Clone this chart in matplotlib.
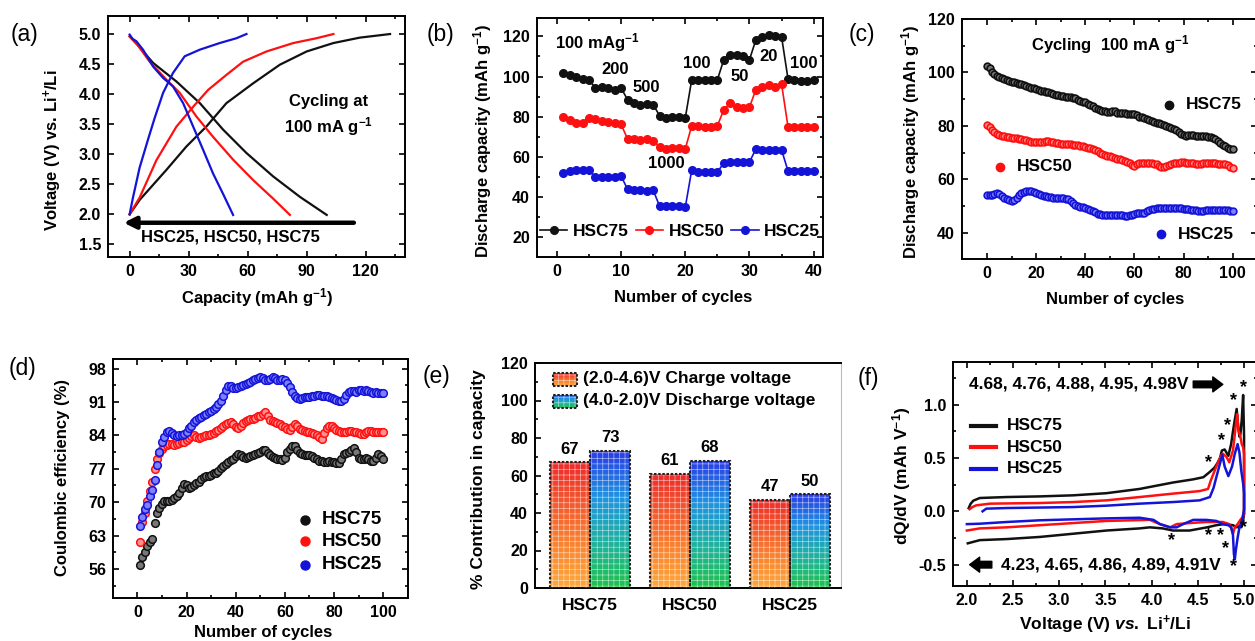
import numpy as np
import matplotlib
matplotlib.use('Agg')
import matplotlib.pyplot as plt
from matplotlib.colors import LinearSegmentedColormap
from matplotlib.ticker import MultipleLocator, FormatStrFormatter
from matplotlib.patches import Rectangle

plt.rcParams['font.family'] = ['Liberation Sans', 'DejaVu Sans']
plt.rcParams['font.weight'] = 'bold'
plt.rcParams['axes.labelweight'] = 'bold'
plt.rcParams['mathtext.fontset'] = 'custom'
plt.rcParams['mathtext.rm'] = 'Liberation Sans:bold'
plt.rcParams['mathtext.bf'] = 'Liberation Sans:bold'
plt.rcParams['mathtext.it'] = 'Liberation Sans:italic:bold'
plt.rcParams['axes.linewidth'] = 1.4
plt.rcParams['axes.unicode_minus'] = False
plt.rcParams['hatch.color'] = 'white'
plt.rcParams['hatch.linewidth'] = 0.5

BLK = '#111111'
RED = '#ff1010'
BLU = '#1414d8'

# ---- (a) charge / discharge profiles ----
a_chg25_cap = [0, 1.7, 5.1, 9.3, 12.7, 17, 22, 28, 35.7, 45.8, 54.3, 59.4]
a_chg25_v = [2.0, 2.28, 2.78, 3.24, 3.6, 4.02, 4.35, 4.63, 4.74, 4.85, 4.93, 5.0]
a_chg50_cap = [0, 5.1, 13.6, 23.8, 32.3, 39.9, 49.2, 57.7, 69.6, 83.2, 95, 103.6]
a_chg50_v = [2.0, 2.28, 2.9, 3.46, 3.79, 4.07, 4.32, 4.54, 4.71, 4.85, 4.93, 5.0]
a_chg75_cap = [0, 5.1, 18.7, 28.9, 39, 49.2, 62.8, 76.4, 90, 103.6, 117, 132.4]
a_chg75_v = [2.0, 2.24, 2.74, 3.13, 3.46, 3.85, 4.18, 4.49, 4.71, 4.85, 4.94, 5.0]
a_dis25_cap = [0, 1.5, 3.4, 6.8, 11.9, 17, 22, 27.2, 32.3, 37.4, 42.4, 47.5, 52.6]
a_dis25_v = [4.99, 4.92, 4.88, 4.74, 4.46, 4.27, 4.13, 3.85, 3.46, 3.07, 2.68, 2.34, 1.99]
a_dis50_cap = [0, 4, 10.2, 18.7, 25.5, 33.9, 42.4, 52.6, 62.8, 73, 81.5]
a_dis50_v = [4.96, 4.82, 4.54, 4.24, 4.02, 3.63, 3.29, 2.91, 2.57, 2.26, 1.99]
a_dis75_cap = [0, 4, 11.9, 23.8, 35.7, 47.5, 59.4, 73, 86.6, 100.2]
a_dis75_v = [4.96, 4.82, 4.52, 4.21, 3.85, 3.41, 3.02, 2.63, 2.29, 1.99]

# ---- (b) rate capability ----
b_cycles = list(range(1, 41))
b_hsc75 = [101.8, 101, 99.8, 98.8, 98.4, 94.3, 94.8, 94.3, 93.5, 94.3,
           88.5, 86.8, 86, 86.5, 86, 80.5, 79.4, 79.9, 79.9, 79.4,
           98.4, 98.4, 98.4, 98.4, 98.4, 108.4, 110.9, 110.9, 110, 108.4,
           118.3, 119.7, 120.8, 120.3, 119.7, 98.8, 98.5, 98, 98, 98.5]
b_hsc50 = [80, 78.3, 77, 77, 79.3, 79, 78, 77.2, 77, 76.2,
           69, 69, 68.5, 69, 68, 65, 64, 64.5, 64.5, 64,
           75.5, 75.5, 75, 75, 75.5, 83.5, 86.8, 85, 84.3, 84.8,
           93.5, 95, 96, 95, 96.2, 75, 75, 75, 75, 75]
b_hsc25 = [52, 53, 53.5, 53.5, 53.5, 50, 50, 50, 50, 50.5,
           44, 43.5, 43.5, 43, 43.5, 35.5, 35.5, 35.5, 35.5, 35,
           53.5, 52.5, 52.5, 52.5, 52.5, 57, 57.5, 57.5, 57.5, 57.5,
           64, 63.5, 63.5, 63.5, 63.5, 53, 53, 53, 53, 53]
b_rate_labels = ['100 mAg$^{-1}$', '200', '500', '1000', '100', '50', '20', '100']
b_rate_x = [6.35, 9.1, 13.9, 17.0, 21.8, 28.5, 33.0, 38.4]
b_rate_y = [116.7, 103.4, 94.3, 56.5, 106.7, 100.0, 110.0, 106.4]

# ---- (c) cycling at 100 mA/g ----
c_cycles = list(range(0, 101))
c_hsc75 = [102.5, 101.5, 100.3, 99.4, 98.8, 98.2, 97.8, 97.4, 97.0, 96.8,
           96.5, 96.3, 96.0, 95.8, 95.6, 95.4, 95.0, 94.6, 94.3, 94.0,
           93.8, 93.5, 93.2, 92.9, 92.7, 92.5, 92.4, 92.0, 91.7, 91.4,
           91.3, 91.2, 91.0, 90.9, 90.7, 90.6, 90.3, 89.8, 89.3, 88.9,
           88.8, 88.3, 87.8, 87.3, 86.8, 86.3, 86.0, 85.7, 85.4, 85.3,
           85.3, 85.5, 85.4, 85.0, 84.8, 85.0, 84.8, 84.6, 84.5, 84.4,
           84.4, 84.0, 83.5, 83.2, 82.8, 82.5, 82.1, 81.7, 81.4, 81.1,
           81.0, 80.7, 80.4, 80.0, 79.7, 79.4, 78.8, 78.3, 77.6, 77.0,
           76.6, 76.4, 76.5, 76.6, 76.5, 76.3, 76.2, 76.3, 76.2, 76.1,
           76.0, 75.8, 75.4, 75.0, 74.2, 73.5, 73.0, 72.4, 71.9, 71.5, 71.3]
c_hsc50 = [80.4, 79.5, 78.3, 77.6, 77.1, 76.7, 76.4, 76.2, 75.9, 75.7,
           75.6, 75.5, 75.4, 75.2, 75.0, 74.8, 74.6, 74.3, 74.1, 73.9,
           73.8, 73.8, 73.9, 74.0, 74.2, 74.2, 74.0, 73.9, 73.7, 73.5,
           73.4, 73.3, 73.4, 73.3, 73.1, 72.9, 72.9, 72.7, 72.6, 72.4,
           72.2, 71.9, 71.6, 71.3, 71.0, 70.5, 70.0, 69.6, 69.2, 68.9,
           68.6, 68.3, 68.0, 67.8, 67.6, 67.4, 67.0, 66.5, 66.0, 65.4,
           65.0, 65.6, 66.0, 66.0, 66.1, 66.0, 66.1, 66.0, 65.9, 65.6,
           64.9, 64.5, 64.6, 65.1, 65.5, 65.8, 66.0, 66.2, 66.3, 66.4,
           66.4, 66.3, 66.2, 66.1, 66.0, 65.9, 65.9, 65.9, 66.0, 66.0,
           66.1, 66.1, 66.0, 66.0, 65.9, 65.8, 65.8, 65.6, 65.2, 64.6, 64.2]
c_hsc25 = [54.2, 54.0, 54.0, 54.4, 54.8, 54.4, 53.8, 53.2, 52.8, 52.4,
           52.0, 52.3, 53.2, 54.2, 54.8, 55.3, 55.6, 55.8, 55.6, 55.2,
           54.8, 54.4, 54.0, 53.8, 53.6, 53.5, 53.4, 53.2, 53.1, 53.0,
           53.0, 52.9, 52.8, 52.5, 52.0, 51.0, 50.3, 50.0, 49.8, 49.6,
           49.3, 48.9, 48.5, 48.0, 47.6, 47.2, 46.9, 46.7, 46.6, 46.6,
           46.7, 46.8, 46.8, 46.7, 46.6, 46.5, 46.4, 46.3, 46.5, 46.8,
           47.2, 47.3, 47.3, 47.5, 47.3, 48.0, 48.6, 48.9, 49.0, 49.1,
           49.2, 49.3, 49.4, 49.4, 49.3, 49.3, 49.3, 49.2, 49.2, 49.1,
           49.0, 49.0, 48.9, 48.7, 48.6, 48.4, 48.3, 48.3, 48.3, 48.4,
           48.4, 48.5, 48.5, 48.4, 48.4, 48.4, 48.4, 48.4, 48.4, 48.3, 48.3]

# ---- (d) coulombic efficiency ----
d_cycles = list(range(1, 101))
d_hsc75 = [56.9, 58.5, 59.6, 60.8, 61.7, 62.2, 65.6, 67.8, 68.7, 69.5,
           70.2, 70.3, 70.2, 70.4, 70.8, 71.3, 72.0, 73.0, 73.8, 73.6,
           73.0, 73.2, 73.6, 74.0, 74.3, 74.8, 75.2, 75.4, 75.4, 75.7,
           76.0, 76.1, 76.6, 77.2, 77.5, 78.0, 78.4, 78.8, 79.0, 79.6,
           80.0, 79.8, 79.4, 79.3, 79.5, 79.7, 79.9, 80.0, 80.3, 80.6,
           80.9, 81.0, 80.4, 79.8, 79.5, 79.3, 79.1, 79.0, 78.9, 79.2,
           80.6, 81.2, 81.7, 81.8, 81.0, 80.3, 80.0, 79.9, 79.8, 79.8,
           79.6, 79.3, 79.0, 78.7, 78.6, 78.4, 78.5, 78.6, 78.5, 78.4,
           78.3, 78.3, 79.0, 80.0, 80.3, 80.5, 81.0, 81.4, 80.5, 79.2,
           79.0, 79.1, 79.3, 79.0, 78.7, 78.6, 79.2, 80.0, 79.7, 79.0]
d_hsc50 = [61.6, 65.8, 67.7, 70.3, 72.4, 74.3, 76.9, 79.1, 80.4, 81.2,
           81.8, 82.0, 82.1, 82.1, 82.0, 82.2, 82.4, 82.5, 82.7, 83.0,
           83.4, 83.9, 84.0, 83.7, 83.5, 83.6, 83.8, 84.0, 84.0, 84.2,
           84.5, 84.9, 85.2, 85.6, 86.0, 86.3, 86.5, 86.7, 86.3, 85.8,
           85.6, 86.0, 86.5, 86.9, 87.2, 87.4, 87.5, 87.7, 88.0, 88.1,
           88.5, 88.9, 88.0, 87.3, 87.0, 86.8, 86.5, 86.3, 86.0, 85.7,
           85.4, 85.2, 85.8, 86.3, 86.0, 85.4, 85.2, 85.0, 84.8, 84.6,
           84.4, 84.2, 84.0, 83.6, 83.3, 84.5, 85.6, 86.0, 86.0, 85.5,
           85.1, 84.9, 84.8, 84.7, 84.8, 85.0, 84.9, 84.8, 84.6, 84.4,
           84.2, 84.3, 84.6, 84.9, 84.9, 84.8, 84.8, 84.7, 84.7, 84.7]
d_hsc25 = [65.0, 66.8, 68.6, 69.3, 71.3, 72.5, 74.6, 77.8, 80.5, 82.5,
           83.6, 84.6, 85.0, 84.5, 84.0, 83.8, 84.0, 84.1, 84.3, 84.8,
           85.5, 86.0, 86.7, 87.2, 87.6, 87.9, 88.2, 88.4, 88.8, 89.2,
           89.6, 90.0, 90.6, 91.3, 92.3, 93.5, 94.4, 94.3, 93.9, 94.0,
           94.2, 94.4, 94.6, 94.8, 95.0, 95.2, 95.5, 95.8, 96.0, 96.2,
           96.0, 95.7, 95.6, 95.8, 96.2, 96.0, 95.6, 95.5, 95.8, 95.6,
           95.0, 94.2, 93.0, 92.2, 91.8, 91.7, 91.8, 92.0, 92.0, 92.1,
           92.2, 92.3, 92.4, 92.4, 92.3, 92.2, 92.2, 92.0, 91.8, 91.6,
           91.4, 91.2, 91.2, 91.6, 92.4, 93.0, 93.2, 93.3, 93.0, 93.4,
           93.5, 93.3, 93.6, 93.2, 93.0, 92.9, 93.0, 92.9, 92.8, 92.8]

# ---- (e) capacity contribution ----
e_samples = ['HSC75', 'HSC50', 'HSC25']
e_charge = [67, 61, 47]
e_discharge = [73, 68, 50]
e_legend = ['(2.0-4.6)V Charge voltage', '(4.0-2.0)V Discharge voltage']

# ---- (f) dQ/dV ----
f_v75 = [2.02, 2.04, 2.07, 2.14, 2.43, 2.79, 3.15, 3.51, 3.87, 4.05, 4.23, 4.45, 4.56, 4.63,
         4.68, 4.71, 4.74, 4.76, 4.79, 4.83, 4.86, 4.88, 4.90, 4.92, 4.935, 4.95, 4.96, 4.975,
         4.99, 5.0, 5.0, 5.0, 4.985, 4.97, 4.95, 4.92, 4.88, 4.78, 4.70, 4.60, 4.41, 4.23, 4.12,
         3.98, 3.87, 3.51, 3.15, 2.79, 2.43, 2.14, 2.01]
f_dq75 = [0.03, 0.07, 0.10, 0.125, 0.134, 0.14, 0.15, 0.17, 0.21, 0.24, 0.27, 0.30, 0.32, 0.37,
          0.41, 0.45, 0.50, 0.57, 0.58, 0.52, 0.63, 0.75, 0.86, 0.96, 0.80, 0.70, 0.72, 0.86,
          1.09, 0.70, 0.25, -0.02, -0.12, -0.15, -0.14, -0.15, -0.13, -0.12, -0.13, -0.15, -0.18,
          -0.18, -0.16, -0.15, -0.16, -0.18, -0.21, -0.24, -0.26, -0.27, -0.30]
f_v50 = [2.03, 2.06, 2.10, 2.25, 2.79, 3.15, 3.51, 3.87, 4.23, 4.52, 4.61, 4.64, 4.70, 4.75,
         4.77, 4.81, 4.84, 4.88, 4.91, 4.925, 4.94, 4.96, 4.975, 4.99, 5.0, 5.0, 5.0, 4.98, 4.96,
         4.93, 4.90, 4.88, 4.86, 4.84, 4.77, 4.59, 4.41, 4.27, 4.20, 4.09, 3.98, 3.51, 3.15, 2.79,
         2.43, 2.14, 2.0]
f_dq50 = [0.02, 0.04, 0.056, 0.072, 0.078, 0.087, 0.103, 0.134, 0.166, 0.19, 0.21, 0.29, 0.42,
          0.52, 0.54, 0.51, 0.46, 0.57, 0.80, 0.91, 0.76, 0.70, 0.63, 0.60, 0.54, 0.20, -0.03,
          -0.06, -0.08, -0.12, -0.15, -0.21, -0.15, -0.12, -0.10, -0.10, -0.11, -0.12, -0.15,
          -0.12, -0.08, -0.09, -0.11, -0.13, -0.15, -0.16, -0.18]
f_v25 = [2.17, 2.21, 2.43, 3.15, 3.51, 3.87, 4.23, 4.52, 4.63, 4.67, 4.70, 4.74, 4.765, 4.79,
         4.83, 4.87, 4.90, 4.93, 4.95, 4.97, 4.99, 5.0, 5.0, 4.98, 4.95, 4.93, 4.91, 4.90, 4.89,
         4.88, 4.86, 4.83, 4.77, 4.70, 4.59, 4.45, 4.34, 4.27, 4.20, 4.09, 4.02, 3.87, 3.51, 3.15,
         2.79, 2.43, 2.14, 2.0]
f_dq25 = [0.0, 0.025, 0.031, 0.04, 0.053, 0.072, 0.087, 0.103, 0.134, 0.22, 0.32, 0.45, 0.53,
          0.42, 0.33, 0.42, 0.54, 0.63, 0.55, 0.38, 0.26, 0.17, 0.02, -0.08, -0.15, -0.25, -0.37,
          -0.45, -0.40, -0.22, -0.15, -0.13, -0.12, -0.09, -0.08, -0.08, -0.12, -0.15, -0.15,
          -0.12, -0.08, -0.06, -0.066, -0.075, -0.084, -0.10, -0.116, -0.12]
f_star_v = [4.62, 4.76, 4.82, 4.89, 4.99, 4.22, 4.62, 4.74, 4.80, 4.89, 4.99]
f_star_dq = [0.46, 0.66, 0.80, 1.04, 1.16, -0.27, -0.225, -0.225, -0.35, -0.52, -0.15]

W, H = 1255, 641
fig = plt.figure(figsize=(W / 100, H / 100), dpi=100, facecolor='white')


def make_ax(l, t, r, b):
    return fig.add_axes([l / W, 1 - b / H, (r - l) / W, (b - t) / H])


def style(ax, top=True, right=True):
    ax.tick_params(which='both', direction='in', top=top, right=right, width=1.2,
                   labelsize=11.5, pad=5)
    ax.tick_params(which='major', length=4)
    ax.tick_params(which='minor', length=2.5)


def place_labels(ax, xl, yl):
    # label positions are given as the centre of the text, in axes fractions
    if xl is not None:
        ax.xaxis.set_label_coords(*xl)
        ax.xaxis.label.set_va('center')
    ax.yaxis.set_label_coords(*yl)
    ax.yaxis.label.set_va('center')


def panel_label(x, y, s):
    fig.text(x / W, 1 - y / H, s, ha='center', va='center', fontsize=16.5, fontweight='normal')


# ---------------- (a) ----------------
ax = make_ax(108, 16, 405, 257)
style(ax)
for cap, v, c in [(a_chg75_cap, a_chg75_v, BLK), (a_dis75_cap, a_dis75_v, BLK),
                  (a_chg50_cap, a_chg50_v, RED), (a_dis50_cap, a_dis50_v, RED),
                  (a_chg25_cap, a_chg25_v, BLU), (a_dis25_cap, a_dis25_v, BLU)]:
    ax.plot(cap, v, color=c, lw=1.6)
ax.annotate('', xy=(-3, 1.86), xytext=(114, 1.86),
            arrowprops=dict(arrowstyle='-|>,head_length=0.7,head_width=0.35', lw=3.2,
                            color='black', mutation_scale=10, shrinkA=0, shrinkB=0))
ax.text(51, 1.63, 'HSC25, HSC50, HSC75', ha='center', va='center', fontsize=12)
ax.text(101, 3.88, 'Cycling at', ha='center', va='center', fontsize=12)
ax.text(101, 3.46, '100 mA g$^{-1}$', ha='center', va='center', fontsize=12)
ax.set_xlim(-11, 140)
ax.set_ylim(1.29, 5.3)
ax.xaxis.set_major_locator(MultipleLocator(30))
ax.xaxis.set_minor_locator(MultipleLocator(15))
ax.yaxis.set_major_locator(MultipleLocator(0.5))
ax.yaxis.set_major_formatter(FormatStrFormatter('%.1f'))
ax.set_xlabel('Capacity (mAh g$^{-1}$)', fontsize=12)
ax.set_ylabel('Voltage (V) vs. Li$^{+}$/Li', fontsize=12)
place_labels(ax, (0.5, -0.17), (-0.185, 0.444))
panel_label(25, 34, '(a)')

# ---------------- (b) ----------------
ax = make_ax(537, 18, 823, 257)
style(ax)
for y, c, lab in [(b_hsc75, BLK, 'HSC75'), (b_hsc50, RED, 'HSC50'), (b_hsc25, BLU, 'HSC25')]:
    ax.plot(b_cycles, y, '-o', color=c, ms=5.5, lw=1.2, label=lab)
for s, x, y in zip(b_rate_labels, b_rate_x, b_rate_y):
    ax.text(x, y, s, ha='center', va='center', fontsize=12)
ax.legend(loc='center', bbox_to_anchor=(0.5, 0.107), ncol=3, frameon=False, handlelength=1.6,
          columnspacing=0.4, handletextpad=0.3, borderaxespad=0, prop={'size': 12.5, 'weight': 'bold'})
ax.set_xlim(-3.1, 41.45)
ax.set_ylim(10.25, 129.1)
ax.xaxis.set_major_locator(MultipleLocator(10))
ax.xaxis.set_minor_locator(MultipleLocator(5))
ax.yaxis.set_major_locator(MultipleLocator(20))
ax.yaxis.set_minor_locator(MultipleLocator(10))
ax.set_xlabel('Number of cycles', fontsize=12)
ax.set_ylabel('Discharge capacity (mAh g$^{-1}$)', fontsize=12)
place_labels(ax, (0.51, -0.17), (-0.189, 0.484))
panel_label(440, 34, '(b)')

# ---------------- (c) ----------------
ax = make_ax(962, 19, 1257, 259)
style(ax)
for y, c, fc in [(c_hsc75, BLK, '#777777'), (c_hsc50, RED, '#ff9090'), (c_hsc25, BLU, '#8080ff')]:
    ax.plot(c_cycles, y, 'o', ms=4.8, mec=c, mfc=fc, mew=1.2)
for x, y, c, s in [(74, 87.9, BLK, 'HSC75'), (5.4, 64.8, RED, 'HSC50'), (71, 39.4, BLU, 'HSC25')]:
    ax.plot(x, y, 'o', ms=6, mec=c, mfc=c)
    ax.text(x + 6.8, y, s, va='center', ha='left', fontsize=12.5)
ax.text(50.3, 110.3, 'Cycling  100 mA g$^{-1}$', ha='center', va='center', fontsize=12)
ax.set_xlim(-10.2, 109.9)
ax.set_ylim(30.2, 120)
ax.xaxis.set_major_locator(MultipleLocator(20))
ax.xaxis.set_minor_locator(MultipleLocator(10))
ax.yaxis.set_major_locator(MultipleLocator(20))
ax.yaxis.set_minor_locator(MultipleLocator(10))
ax.set_xlabel('Number of cycles', fontsize=12)
ax.set_ylabel('Discharge capacity (mAh g$^{-1}$)', fontsize=12)
place_labels(ax, (0.519, -0.17), (-0.176, 0.488))
panel_label(862, 34, '(c)')

# ---------------- (d) ----------------
ax = make_ax(113, 359, 408, 598)
style(ax)
for y, c, fc in [(d_hsc75, BLK, '#777777'), (d_hsc50, RED, '#ff9090'), (d_hsc25, BLU, '#8080ff')]:
    ax.plot(d_cycles, y, 'o', ms=5.5, mec=c, mfc=fc, mew=1.1)
for y, c, s in [(66.3, BLK, 'HSC75'), (61.8, RED, 'HSC50'), (56.9, BLU, 'HSC25')]:
    ax.plot(68, y, 'o', ms=6.5, mec=c, mfc=c)
    ax.text(75, y, s, va='center', ha='left', fontsize=13.5)
ax.set_xlim(-9.9, 110.1)
ax.set_ylim(49.9, 100)
ax.xaxis.set_major_locator(MultipleLocator(20))
ax.xaxis.set_minor_locator(MultipleLocator(10))
ax.yaxis.set_minor_locator(MultipleLocator(3.5))
ax.set_yticks([56, 63, 70, 77, 84, 91, 98])
ax.set_xlabel('Number of cycles', fontsize=12)
ax.set_ylabel('Coulombic efficiency (%)', fontsize=12)
place_labels(ax, (0.508, -0.143), (-0.17, 0.503))
panel_label(22, 368, '(d)')

# ---------------- (e) ----------------
ax = make_ax(535, 363, 841, 588)
ax.tick_params(which='both', direction='in', left=True, bottom=False, top=False, right=False,
               width=1.2, labelsize=11.5, pad=5)
ax.tick_params(axis='x', pad=7)
ax.tick_params(which='major', length=4)
ax.tick_params(which='minor', length=2.5)
ax.spines['right'].set_color('#bbbbbb')
ax.spines['right'].set_linewidth(0.8)
cmap_chg = LinearSegmentedColormap.from_list('chg', ['#ffa83a', '#fb8530', '#f45a2e', '#ee2a2a'])
cmap_dis = LinearSegmentedColormap.from_list('dis', ['#1fc24a', '#1fb3a0', '#1f93e2', '#2b3ce6'])
grad = np.linspace(0, 1, 256).reshape(-1, 1)
xpos = np.arange(len(e_samples))
bw = 0.4


def grad_bar(x0, x1, y0, y1, cmap):
    im = ax.imshow(grad, extent=(x0, x1, y0, y1), origin='lower', cmap=cmap, aspect='auto', zorder=2)
    rect = Rectangle((x0, y0), x1 - x0, y1 - y0, facecolor='none', edgecolor='none',
                     transform=ax.transData)
    im.set_clip_path(rect)
    ax.add_patch(Rectangle((x0, y0), x1 - x0, y1 - y0, facecolor='none', edgecolor='white',
                           lw=0, hatch='+++', alpha=0.6, zorder=3))
    ax.add_patch(Rectangle((x0, y0), x1 - x0, y1 - y0, facecolor='none', edgecolor='#222222',
                           lw=1.5, ls=(0, (1.2, 0.8)), zorder=4))


for i in range(len(e_samples)):
    grad_bar(xpos[i] - bw, xpos[i], 0, e_charge[i], cmap_chg)
    grad_bar(xpos[i], xpos[i] + bw, 0, e_discharge[i], cmap_dis)
    ax.text(xpos[i] - bw / 2, e_charge[i] + 3, str(e_charge[i]), ha='center', va='bottom', fontsize=12)
    ax.text(xpos[i] + bw / 2, e_discharge[i] + 3, str(e_discharge[i]), ha='center', va='bottom', fontsize=12)
grad_bar(-0.373, -0.133, 107.9, 114.7, cmap_chg)
grad_bar(-0.373, -0.133, 96.0, 103.1, cmap_dis)
ax.text(-0.067, 111.5, e_legend[0], ha='left', va='center', fontsize=12.5)
ax.text(-0.067, 99.8, e_legend[1], ha='left', va='center', fontsize=12.5)
ax.set_xlim(-0.55, 2.51)
ax.set_ylim(0, 120)
ax.set_xticks(xpos)
ax.set_xticklabels(e_samples, fontsize=12.5)
ax.yaxis.set_major_locator(MultipleLocator(20))
ax.yaxis.set_minor_locator(MultipleLocator(10))
ax.set_ylabel('% Contribution in capacity', fontsize=12.5)
place_labels(ax, None, (-0.186, 0.486))
panel_label(437, 377, '(e)')

# ---------------- (f) ----------------
ax = make_ax(953, 362, 1257, 586)
style(ax)
ax.plot(f_v75, f_dq75, color=BLK, lw=1.8)
ax.plot(f_v50, f_dq50, color=RED, lw=1.8)
ax.plot(f_v25, f_dq25, color=BLU, lw=1.8)
for y, c, s in [(0.8, BLK, 'HSC75'), (0.6, RED, 'HSC50'), (0.4, BLU, 'HSC25')]:
    ax.plot([2.05, 2.32], [y, y], color=c, lw=3)
    ax.text(2.43, y, s, ha='left', va='center', fontsize=12.5)
for v, q in zip(f_star_v, f_star_dq):
    ax.text(v, q, '*', ha='center', va='center', fontsize=13)
ax.text(4.40, 1.19, '4.68, 4.76, 4.88, 4.95, 4.98V', ha='right', va='center', fontsize=12.5)
ax.text(2.37, -0.5, '4.23, 4.65, 4.86, 4.89, 4.91V', ha='left', va='center', fontsize=12.5)
ax.annotate('', xy=(4.77, 1.19), xytext=(4.45, 1.19),
            arrowprops=dict(arrowstyle='simple,head_length=0.6,head_width=0.9,tail_width=0.4',
                            color='black', mutation_scale=12, shrinkA=0, shrinkB=0))
ax.annotate('', xy=(2.03, -0.5), xytext=(2.27, -0.5),
            arrowprops=dict(arrowstyle='simple,head_length=0.6,head_width=0.9,tail_width=0.4',
                            color='black', mutation_scale=12, shrinkA=0, shrinkB=0))
ax.set_xlim(1.85, 5.14)
ax.set_ylim(-0.7, 1.4)
ax.xaxis.set_major_locator(MultipleLocator(0.5))
ax.xaxis.set_minor_locator(MultipleLocator(0.25))
ax.yaxis.set_major_locator(MultipleLocator(0.5))
ax.yaxis.set_minor_locator(MultipleLocator(0.25))
ax.xaxis.set_major_formatter(FormatStrFormatter('%.1f'))
ax.yaxis.set_major_formatter(FormatStrFormatter('%.1f'))
ax.set_xlabel('Voltage (V) $\\it{vs.}$ Li$^{+}$/Li', fontsize=12.5)
ax.set_ylabel('dQ/dV (mAh V$^{-1}$)', fontsize=12.5)
place_labels(ax, (0.5, -0.174), (-0.168, 0.493))
panel_label(868, 379, '(f)')

fig.savefig('out.png', dpi=100, facecolor='white')
